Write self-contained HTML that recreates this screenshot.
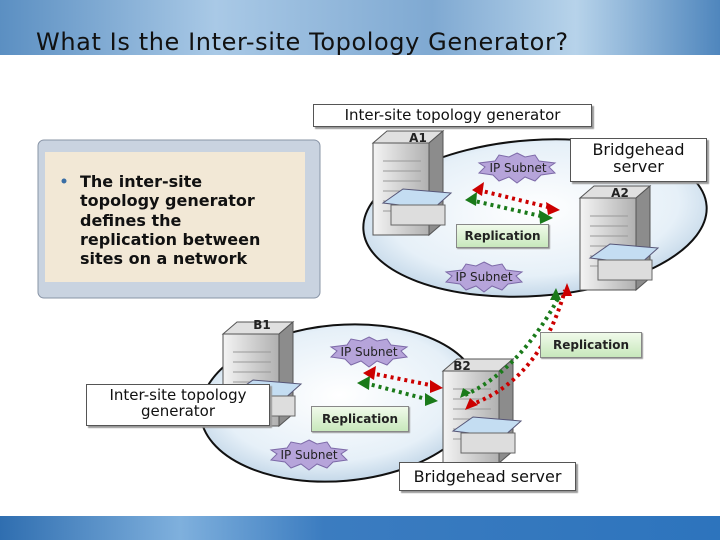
<!DOCTYPE html>
<html><head><style>
body{margin:0;width:720px;height:540px;overflow:hidden;background:#fff;position:relative;font-family:"Liberation Sans","DejaVu Sans",sans-serif}
.hdr{position:absolute;left:0;top:0;width:720px;height:55px;background:linear-gradient(90deg,#5b8fc2,#a9c9e6 30%,#7fa9d2 60%,#b7d3ea 80%,#4f86bd)}
.ftr{position:absolute;left:0;top:516px;width:720px;height:24px;background:linear-gradient(90deg,#2f6eb0,#7fb0dd 25%,#3b7cc0 45%,#2d74bd)}
.t{position:absolute;left:36px;top:28px;font-size:24px;color:#111;font-family:"DejaVu Sans",sans-serif;letter-spacing:0.6px}
.box{position:absolute;background:#fff;border:1px solid #555;box-shadow:2px 2px 1px #999;text-align:center;font-family:"DejaVu Sans",sans-serif;color:#111}
.rep{position:absolute;background:linear-gradient(#f0faea,#c8e8bc);border:1px solid #888;box-shadow:1px 1px 1px #999;font-size:12px;font-weight:bold;text-align:center;font-family:"DejaVu Sans",sans-serif;color:#222}
</style></head><body>
<div class="hdr"></div>
<div class="t">What Is the Inter-site Topology Generator?</div>
<svg width="720" height="540" style="position:absolute;left:0;top:0">
<defs>
<radialGradient id="eg" cx="50%" cy="45%" r="60%"><stop offset="0" stop-color="#fff"/><stop offset="0.7" stop-color="#e6f0f8"/><stop offset="1" stop-color="#b8cfe3"/></radialGradient>
<linearGradient id="sv" x1="0" x2="1"><stop offset="0" stop-color="#f4f4f4"/><stop offset="1" stop-color="#b0b0b0"/></linearGradient>
<g id="srv">
<polygon points="0,12 14,0 70,0 56,12" fill="#e0e0e0" stroke="#555"/>
<polygon points="56,12 70,0 70,92 56,104" fill="#8c8c8c" stroke="#555"/>
<rect x="0" y="12" width="56" height="92" fill="url(#sv)" stroke="#555"/>
<g stroke="#999"><line x1="10" y1="30" x2="48" y2="30"/><line x1="10" y1="40" x2="48" y2="40"/><line x1="10" y1="50" x2="48" y2="50"/><line x1="10" y1="60" x2="48" y2="60"/><line x1="10" y1="70" x2="48" y2="70"/><line x1="10" y1="80" x2="48" y2="80"/></g>
<polygon points="10,72 30,58 78,62 60,78" fill="#c4ddf2" stroke="#557"/>
<rect x="18" y="74" width="54" height="20" fill="#ddd" stroke="#666"/>
</g>
<g id="star"><polygon points="0,-14 8,-10 18,-12 22,-6 38,-4 32,0 38,6 24,8 18,14 8,10 0,16 -8,10 -18,14 -24,8 -38,6 -32,0 -38,-4 -22,-6 -18,-12 -8,-10" fill="#b6a4da" stroke="#7d6aa8"/></g>
</defs>
<ellipse cx="535" cy="218" rx="172" ry="78" fill="url(#eg)" stroke="#111" stroke-width="2" transform="rotate(-4 535 218)"/>
<ellipse cx="340" cy="403" rx="140" ry="78" fill="url(#eg)" stroke="#111" stroke-width="2" transform="rotate(-5 340 403)"/>
<rect x="38" y="140" width="282" height="158" rx="6" fill="#c9d3e0" stroke="#8894a6"/>
<rect x="45" y="152" width="260" height="130" fill="#f2e8d6"/>
<use href="#srv" x="373" y="131"/>
<use href="#srv" x="580" y="186"/>
<use href="#srv" x="223" y="322"/>
<use href="#srv" x="443" y="359"/>
<use href="#star" x="517" y="167"/>
<use href="#star" x="484" y="276"/>
<use href="#star" x="369" y="351"/>
<use href="#star" x="309" y="454"/>
<g stroke-width="4" stroke-dasharray="3 4" fill="none">
<line x1="478" y1="190" x2="552" y2="208" stroke="#c00"/><line x1="470" y1="200" x2="545" y2="217" stroke="#1a7a1a"/>
<line x1="370" y1="373" x2="435" y2="386" stroke="#c00"/><line x1="365" y1="383" x2="430" y2="400" stroke="#1a7a1a"/>
<path d="M470,405 Q540,380 565,290" stroke="#c00"/><path d="M465,395 Q520,370 560,295" stroke="#1a7a1a"/>
</g>
<g>
<polygon points="472,190 484,182 482,196" fill="#c00"/><polygon points="560,210 546,202 548,215" fill="#c00"/>
<polygon points="465,200 477,192 476,206" fill="#1a7a1a"/><polygon points="553,218 539,210 540,224" fill="#1a7a1a"/>
<polygon points="363,373 376,366 374,380" fill="#c00"/><polygon points="443,388 430,380 430,393" fill="#c00"/>
<polygon points="357,383 370,376 369,390" fill="#1a7a1a"/><polygon points="438,401 425,393 425,406" fill="#1a7a1a"/>
<polygon points="465,410 470,398 478,405" fill="#c00"/><polygon points="460,398 463,388 471,393" fill="#1a7a1a"/>
<polygon points="567,283 562,296 572,296" fill="#c00"/>
<polygon points="556,288 550,300 561,300" fill="#1a7a1a"/>
</g>
<g font-family="DejaVu Sans,sans-serif" font-size="12" font-weight="bold" fill="#222" text-anchor="middle">
<text x="518" y="172" font-weight="normal">IP Subnet</text>
<text x="484" y="281" font-weight="normal">IP Subnet</text>
<text x="369" y="356" font-weight="normal">IP Subnet</text>
<text x="309" y="459" font-weight="normal">IP Subnet</text>
<text x="418" y="142">A1</text><text x="620" y="197">A2</text>
<text x="262" y="329">B1</text><text x="462" y="370">B2</text>
</g>
<g font-family="DejaVu Sans,sans-serif" font-size="16" font-weight="bold" fill="#111">
<circle cx="64" cy="181" r="2.5" fill="#3a6ea5"/>
<text x="80" y="187">The inter-site</text>
<text x="80" y="206">topology generator</text>
<text x="80" y="226">defines the</text>
<text x="80" y="245">replication between</text>
<text x="80" y="264">sites on a network</text>
</g>
</svg>
<div class="box" style="left:313px;top:104px;width:277px;height:21px;font-size:15px;line-height:21px">Inter-site topology generator</div>
<div class="box" style="left:570px;top:138px;width:135px;height:40px;font-size:16px;line-height:17px;padding-top:2px">Bridgehead<br>server</div>
<div class="box" style="left:86px;top:384px;width:182px;height:38px;font-size:15px;line-height:16px;padding-top:2px">Inter-site topology<br>generator</div>
<div class="box" style="left:399px;top:462px;width:175px;height:27px;font-size:16px;line-height:27px">Bridgehead server</div>
<div class="rep" style="left:456px;top:224px;width:91px;height:22px;line-height:22px">Replication</div>
<div class="rep" style="left:540px;top:332px;width:100px;height:24px;line-height:24px">Replication</div>
<div class="rep" style="left:311px;top:406px;width:96px;height:24px;line-height:24px">Replication</div>
<div class="ftr"></div>
</body></html>
